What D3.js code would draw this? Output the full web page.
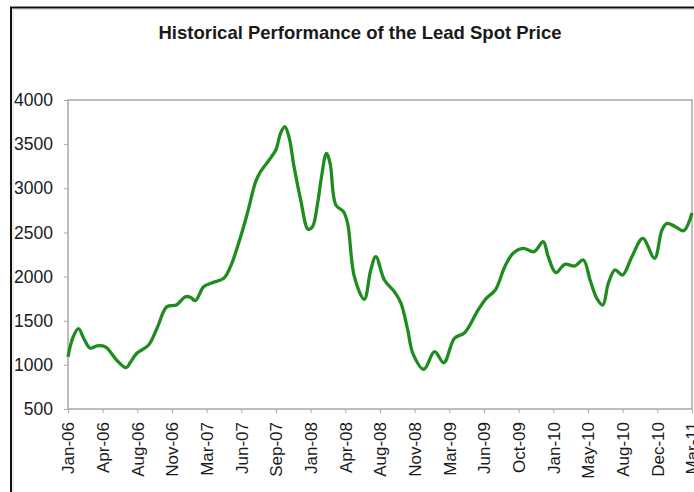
<!DOCTYPE html>
<html>
<head>
<meta charset="utf-8">
<script src="https://cdn.jsdelivr.net/npm/d3@7"></script>
<style>
  body { margin: 0; background: #fff; }
  text { font-family: "Liberation Sans", Arial, sans-serif; fill: #1a1a1a; }
</style>
</head>
<body>
<div id="chart"></div>
<script>
// weekly category axis, a label every 15 weeks
var tickLabels = ["Jan-06", "Apr-06", "Aug-06", "Nov-06", "Mar-07", "Jun-07", "Sep-07",
  "Jan-08", "Apr-08", "Aug-08", "Nov-08", "Mar-09", "Jun-09", "Oct-09", "Jan-10",
  "May-10", "Aug-10", "Dec-10", "Mar-11"];
var yTicks = [500, 1000, 1500, 2000, 2500, 3000, 3500, 4000];

// week index (0 = first week of Jan-06) and price in USD/t
var weeks = [0, 2, 4.5, 7, 9.5, 12.5, 15, 17, 21, 25.2, 27, 29.8, 34.9, 38.5, 42.8,
  46.9, 50.8, 53, 55.1, 58.7, 62.4, 67.4, 70.3, 74.7, 77.6, 81.2, 83.3, 87, 89.9,
  92, 93.8, 95.6, 97.8, 100.7, 103.9, 105.8, 108, 109.7, 111.8, 113.4, 115.9,
  119.2, 121, 123.9, 128.2, 131, 133.2, 136.9, 141.2, 144.1, 147, 149.2, 154,
  158.6, 162.6, 167.2, 171.6, 177.4, 181, 184.9, 189, 192.6, 196.9, 201.7,
  205.6, 207.8, 211.1, 215, 219.3, 223, 225.9, 228.8, 231.4, 233.8, 236.7,
  239.9, 244, 248.7, 253.8, 257, 259.2, 262.8, 266.4, 270];
var prices = [1090, 1300, 1410, 1290, 1190, 1214, 1214, 1188, 1055, 968, 1030, 1131,
  1225, 1414, 1659, 1678, 1772, 1765, 1727, 1885, 1930, 1980, 2112, 2452, 2716,
  3075, 3188, 3320, 3434, 3623, 3698, 3584, 3245, 2867, 2535, 2565, 2830, 3131,
  3396, 3283, 2811, 2735, 2603, 1999, 1743, 2075, 2225, 1961, 1829, 1697, 1395,
  1131, 950, 1149, 1024, 1301, 1364, 1621, 1754, 1848, 2112, 2264, 2320, 2282,
  2395, 2225, 2044, 2139, 2120, 2188, 1961, 1754, 1678, 1924, 2075, 2018, 2225,
  2433, 2207, 2528, 2603, 2565, 2520, 2720];

var W = 694, H = 492;
var plotL = 68, plotR = 692, plotT = 100, plotB = 409;

var svg = d3.select("#chart").append("svg")
  .attr("width", W)
  .attr("height", H);

// outer frame of the original picture
svg.append("path")
  .attr("d", "M11," + H + "V7.5H" + W)
  .attr("fill", "none")
  .attr("stroke", "#111")
  .attr("stroke-width", 2);
svg.append("path")
  .attr("d", "M13," + H + "V9.5H" + W)
  .attr("fill", "none")
  .attr("stroke", "#ddd")
  .attr("stroke-width", 1);

svg.append("text")
  .attr("x", 360)
  .attr("y", 39)
  .attr("text-anchor", "middle")
  .attr("font-size", 18.5)
  .attr("font-weight", "bold")
  .text("Historical Performance of the Lead Spot Price");

var x = d3.scaleLinear().domain([0, 270]).range([plotL, plotR]);
var y = d3.scaleLinear().domain([500, 4000]).range([plotB, plotT]);

// plot frame
svg.append("rect")
  .attr("x", plotL)
  .attr("y", plotT)
  .attr("width", plotR - plotL)
  .attr("height", plotB - plotT)
  .attr("fill", "none")
  .attr("stroke", "#a8a8a8")
  .attr("stroke-width", 1.5);

var yAxis = svg.append("g")
  .attr("transform", "translate(" + plotL + ",0)")
  .call(d3.axisLeft(y).tickValues(yTicks).tickFormat(d3.format("d"))
    .tickSize(4).tickPadding(11));
yAxis.select(".domain").remove();
yAxis.selectAll("line").attr("stroke", "#a8a8a8");
yAxis.selectAll("text")
  .attr("font-size", 17.5)
  .attr("font-family", "Liberation Sans, Arial, sans-serif")
  .attr("fill", "#1a1a1a");

var xAxis = svg.append("g")
  .attr("transform", "translate(0," + plotB + ")")
  .call(d3.axisBottom(x)
    .tickValues(d3.range(tickLabels.length).map(function(i) { return i * 15; }))
    .tickFormat(function(d, i) { return tickLabels[i]; })
    .tickSize(4));
xAxis.select(".domain").remove();
xAxis.selectAll("line").attr("stroke", "#a8a8a8");
xAxis.selectAll("text")
  .attr("font-size", 17)
  .attr("font-family", "Liberation Sans, Arial, sans-serif")
  .attr("fill", "#1a1a1a")
  .attr("text-anchor", "end")
  .attr("transform", "rotate(-90)")
  .attr("x", -13)
  .attr("y", 0)
  .attr("dy", "0.35em");

var line = d3.line()
  .x(function(d, i) { return x(weeks[i]); })
  .y(function(d) { return y(d); })
  .curve(d3.curveCatmullRom.alpha(0.5));

svg.append("path")
  .datum(prices)
  .attr("d", line)
  .attr("fill", "none")
  .attr("stroke", "#1f8c1f")
  .attr("stroke-width", 3.3)
  .attr("stroke-linejoin", "round");
</script>
</body>
</html>
